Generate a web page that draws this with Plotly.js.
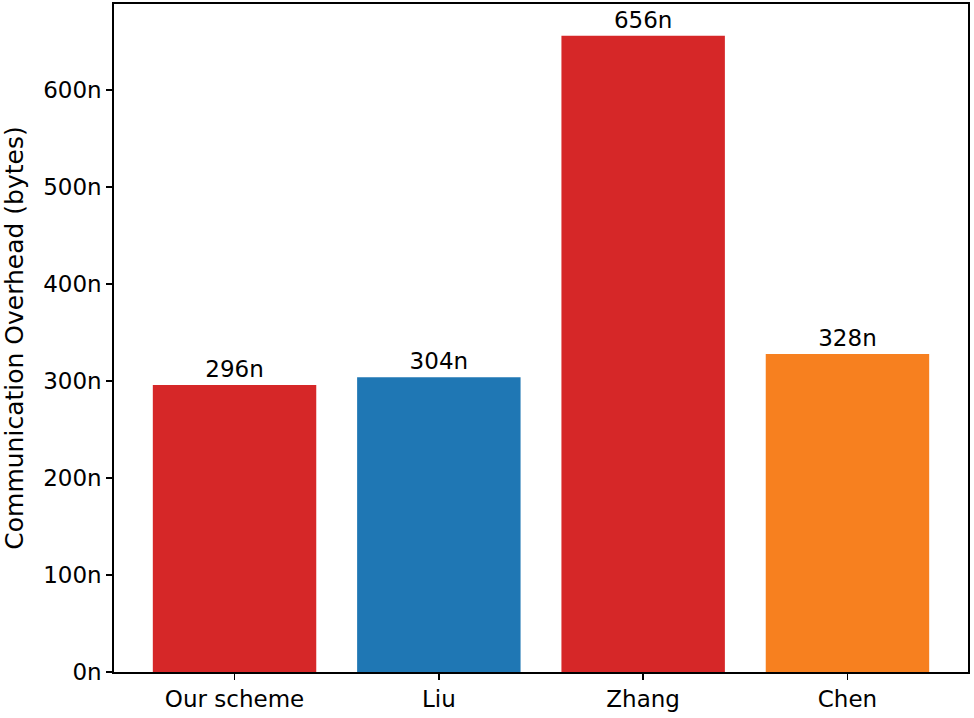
<!DOCTYPE html>
<html>
<head>
<meta charset="utf-8">
<script src="https://cdn.plot.ly/plotly-3.0.1.min.js"></script>
<style>
  html, body { margin: 0; padding: 0; background: white; }
  #chart { width: 974px; height: 718px; }
</style>
</head>
<body>
<div id="chart"></div>
<script>
const schemes = ['Our scheme', 'Liu', 'Zhang', 'Chen'];
const overhead = [296, 304, 656, 328];
const barColors = ['#d62728', '#1f77b4', '#d62728', '#f7801f'];

const font = {family: 'DejaVu Sans, sans-serif', size: 23, color: 'black'};

const data = [{
    type: 'bar',
    x: schemes,
    y: overhead,
    marker: {color: barColors, line: {width: 0}},
    text: overhead.map(v => v + 'n'),
    textposition: 'outside',
    textfont: font,
    cliponaxis: false,
    hoverinfo: 'skip'
}];

const axisStyle = {
    showline: true,
    linecolor: 'black',
    linewidth: 1.7,
    mirror: true,
    ticks: 'outside',
    ticklen: 6,
    tickwidth: 1.5,
    tickcolor: 'black',
    showgrid: false,
    zeroline: false,
    tickfont: font
};

const layout = {
    width: 974,
    height: 718,
    margin: {l: 114, r: 6, t: 4, b: 46},
    paper_bgcolor: 'white',
    plot_bgcolor: 'white',
    bargap: 0.2,
    showlegend: false,
    font: font,
    xaxis: Object.assign({}, axisStyle, {
        type: 'category',
        range: [-0.59, 3.59]
    }),
    yaxis: Object.assign({}, axisStyle, {
        range: [0, 688.8],
        dtick: 100,
        tick0: 0,
        ticksuffix: 'n',
        title: {text: 'Communication Overhead (bytes)',
                font: {family: 'DejaVu Sans, sans-serif', size: 25, color: 'black'},
                standoff: 12}
    })
};

Plotly.newPlot('chart', data, layout, {displayModeBar: false, staticPlot: true});
</script>
</body>
</html>
